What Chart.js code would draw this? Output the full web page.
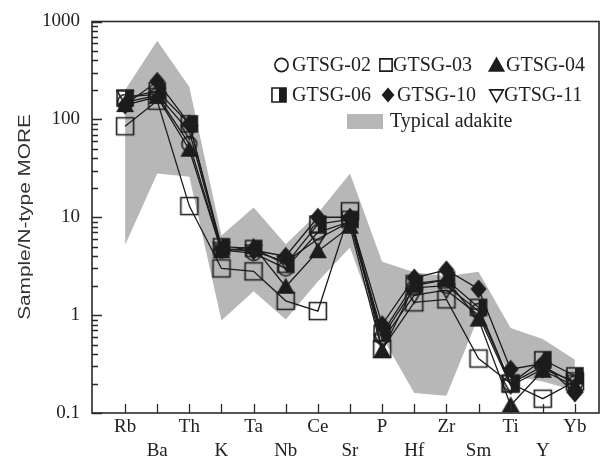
<!DOCTYPE html>
<html>
<head>
<meta charset="utf-8">
<title>Spider diagram</title>
<script src="https://cdn.jsdelivr.net/npm/chart.js@4.4.0/dist/chart.umd.min.js"></script>
<style>
  html, body { margin: 0; padding: 0; background: #ffffff; }
  #wrap { width: 610px; height: 464px; }
</style>
</head>
<body>
<div id="wrap"><canvas id="c" width="610" height="464"></canvas></div>
<script>
// Elements along the x axis (normalised to N-type MORB)
const elements = ['Rb', 'Ba', 'Th', 'K', 'Ta', 'Nb', 'Ce', 'Sr', 'P', 'Hf', 'Zr', 'Sm', 'Ti', 'Y', 'Yb'];
const yTickValues = [0.1, 1, 10, 100, 1000];

// Typical adakite field: upper and lower envelope
const adakiteUpper = [200, 637, 214, 6.5, 12.6, 5.3, 11, 28, 3.5, 2.75, 2.5, 2.77, 0.74, 0.57, 0.35];
const adakiteLower = [5.2, 28, 26, 0.88, 1.75, 0.9, 2.2, 4.9, 0.6, 0.16, 0.15, 0.96, 0.24, 0.21, 0.17];

// Samples
const gtsg02 = [150, 175, 56, 4.6, 4.3, 3.0, 7.0, 9.0, 0.60, 1.9, 2.0, 1.10, 0.20, 0.30, 0.20];
const gtsg03 = [85, 155, 13, 3.0, 2.8, 1.4, 1.1, 11.5, 0.45, 1.35, 1.45, 0.36, 0.20, 0.14, 0.21];
const gtsg04 = [140, 170, 49, 4.5, 5.0, 1.95, 4.5, 8.0, 0.43, 2.0, 2.3, 0.90, 0.12, 0.27, 0.19];
const gtsg06 = [165, 195, 90, 5.0, 4.8, 3.3, 8.5, 9.5, 0.65, 2.1, 2.3, 1.20, 0.20, 0.35, 0.24];
const gtsg10 = [140, 245, 90, 4.7, 4.6, 4.0, 10, 10, 0.80, 2.4, 2.9, 1.85, 0.28, 0.32, 0.16];
const gtsg11 = [170, 180, 75, 4.8, 4.5, 3.5, 6.0, 9.0, 0.55, 1.6, 1.8, 1.00, 0.19, 0.28, 0.21];

const INK = '#1c1c1c';
const FIELD = '#b7b7b7';
const SERIF = "'Liberation Serif', 'Times New Roman', serif";

function drawMarker(ctx, kind, x, y, s) {
  ctx.save();
  ctx.strokeStyle = INK;
  ctx.fillStyle = INK;
  ctx.lineWidth = 1.6;
  ctx.beginPath();
  switch (kind) {
    case 'circle':
      ctx.arc(x, y, 7.5 * s, 0, Math.PI * 2);
      ctx.stroke();
      break;
    case 'square':
      ctx.rect(x - 8.5 * s, y - 8.5 * s, 17 * s, 17 * s);
      ctx.stroke();
      break;
    case 'triangle':
      ctx.moveTo(x, y - 9 * s);
      ctx.lineTo(x + 9 * s, y + 7 * s);
      ctx.lineTo(x - 9 * s, y + 7 * s);
      ctx.closePath();
      ctx.fill();
      break;
    case 'half': {
      const h = 8 * s;
      ctx.fillRect(x, y - h, h, 2 * h);
      ctx.rect(x - h, y - h, 2 * h, 2 * h);
      ctx.stroke();
      break;
    }
    case 'diamond':
      ctx.moveTo(x, y - 9.5 * s);
      ctx.lineTo(x + 8 * s, y);
      ctx.lineTo(x, y + 9.5 * s);
      ctx.lineTo(x - 8 * s, y);
      ctx.closePath();
      ctx.fill();
      break;
    case 'invtri':
      ctx.moveTo(x - 8 * s, y - 6 * s);
      ctx.lineTo(x + 8 * s, y - 6 * s);
      ctx.lineTo(x, y + 8 * s);
      ctx.closePath();
      ctx.stroke();
      break;
  }
  ctx.restore();
}

function markerCanvas(kind) {
  const c = document.createElement('canvas');
  c.width = 26;
  c.height = 26;
  drawMarker(c.getContext('2d'), kind, 13, 13, 1);
  return c;
}

const toPoints = arr => arr.map((v, i) => ({ x: i, y: v }));

const samples = [
  { label: 'GTSG-03', values: gtsg03, marker: 'square', order: 6 },
  { label: 'GTSG-02', values: gtsg02, marker: 'circle', order: 5 },
  { label: 'GTSG-11', values: gtsg11, marker: 'invtri', order: 4 },
  { label: 'GTSG-06', values: gtsg06, marker: 'half', order: 3 },
  { label: 'GTSG-04', values: gtsg04, marker: 'triangle', order: 2 },
  { label: 'GTSG-10', values: gtsg10, marker: 'diamond', order: 1 }
];

const datasets = [
  {
    label: 'adakite-lower',
    data: toPoints(adakiteLower),
    borderWidth: 0,
    pointRadius: 0,
    fill: false,
    order: 100
  },
  {
    label: 'Typical adakite',
    data: toPoints(adakiteUpper),
    borderWidth: 0,
    pointRadius: 0,
    backgroundColor: FIELD,
    fill: '-1',
    order: 99
  }
].concat(samples.map(s => ({
  label: s.label,
  data: toPoints(s.values),
  borderColor: INK,
  borderWidth: 1.3,
  pointStyle: markerCanvas(s.marker),
  pointRadius: 8,
  fill: false,
  order: s.order
})));

// Frame, inward tick marks, legend and axis title
const decorations = {
  id: 'decorations',
  afterDraw(chart) {
    const { ctx, chartArea: a, scales } = chart;
    const xs = scales.x, ys = scales.y;
    ctx.save();
    ctx.strokeStyle = '#2a2a2a';
    ctx.lineWidth = 1.6;
    ctx.strokeRect(a.left, a.top, a.right - a.left, a.bottom - a.top);

    ctx.lineWidth = 1.3;
    ctx.beginPath();
    elements.forEach((_, i) => {
      const px = Math.round(xs.getPixelForValue(i)) + 0.5;
      ctx.moveTo(px, a.bottom);
      ctx.lineTo(px, a.bottom - 9);
    });
    for (let d = 0.1; d < 1000; d *= 10) {
      for (let k = 1; k < 10; k++) {
        const py = Math.round(ys.getPixelForValue(k * d)) + 0.5;
        ctx.moveTo(a.left, py);
        ctx.lineTo(a.left + (k === 1 ? 10 : 6), py);
      }
    }
    const pTop = Math.round(ys.getPixelForValue(1000)) + 0.5;
    ctx.moveTo(a.left, pTop);
    ctx.lineTo(a.left + 10, pTop);
    ctx.stroke();

    // legend
    const legendItems = [
      { kind: 'circle', mx: 281.5, tx: 292, y: 65, text: 'GTSG-02', s: 0.88 },
      { kind: 'square', mx: 386, tx: 393, y: 65, text: 'GTSG-03', s: 0.72 },
      { kind: 'triangle', mx: 496.5, tx: 506, y: 65, text: 'GTSG-04', s: 0.95 },
      { kind: 'half', mx: 279, tx: 292, y: 95, text: 'GTSG-06', s: 0.88 },
      { kind: 'diamond', mx: 388, tx: 397, y: 95, text: 'GTSG-10', s: 0.8 },
      { kind: 'invtri', mx: 496.5, tx: 504, y: 95, text: 'GTSG-11', s: 0.85 }
    ];
    ctx.font = '20px ' + SERIF;
    ctx.fillStyle = '#222';
    ctx.textAlign = 'left';
    ctx.textBaseline = 'middle';
    legendItems.forEach(it => {
      drawMarker(ctx, it.kind, it.mx, it.y, it.s);
      ctx.fillStyle = '#222';
      ctx.fillText(it.text, it.tx, it.y + 1);
    });
    ctx.fillStyle = FIELD;
    ctx.fillRect(347, 114, 36, 15);
    ctx.fillStyle = '#222';
    ctx.fillText('Typical adakite', 390, 122);

    // y axis title
    ctx.translate(26, 217);
    ctx.rotate(-Math.PI / 2);
    ctx.scale(1.3, 1);
    ctx.font = "16px 'Liberation Sans', Arial, sans-serif";
    ctx.textAlign = 'center';
    ctx.textBaseline = 'middle';
    ctx.fillStyle = '#333';
    ctx.fillText('Sample/N-type MORE', 0, 0);
    ctx.restore();
  }
};

new Chart(document.getElementById('c'), {
  type: 'line',
  data: { datasets },
  plugins: [decorations],
  options: {
    responsive: false,
    animation: false,
    devicePixelRatio: 1,
    layout: { padding: { top: 11, right: 11, left: 0, bottom: 0 } },
    plugins: { legend: { display: false }, tooltip: { enabled: false } },
    scales: {
      x: {
        type: 'linear',
        min: -1.03,
        max: 14.75,
        afterBuildTicks: scale => { scale.ticks = elements.map((_, i) => ({ value: i })); },
        afterFit: scale => { scale.height = 51; },
        grid: { display: false, drawTicks: false },
        border: { display: false },
        ticks: {
          autoSkip: false,
          maxRotation: 0,
          padding: 2,
          color: '#222',
          font: { family: SERIF, size: 19, lineHeight: 1.25 },
          callback: v => (v % 2 === 0 ? elements[v] : ['', elements[v]])
        }
      },
      y: {
        type: 'logarithmic',
        min: 0.1,
        max: 1000,
        afterBuildTicks: scale => { scale.ticks = yTickValues.map(v => ({ value: v })); },
        afterFit: scale => { scale.width = 92; },
        grid: { display: false, drawTicks: false },
        border: { display: false },
        ticks: {
          autoSkip: false,
          padding: 12,
          color: '#222',
          font: { family: SERIF, size: 19, lineHeight: 1.0 },
          callback: v => String(v)
        }
      }
    }
  }
});
</script>
</body>
</html>
